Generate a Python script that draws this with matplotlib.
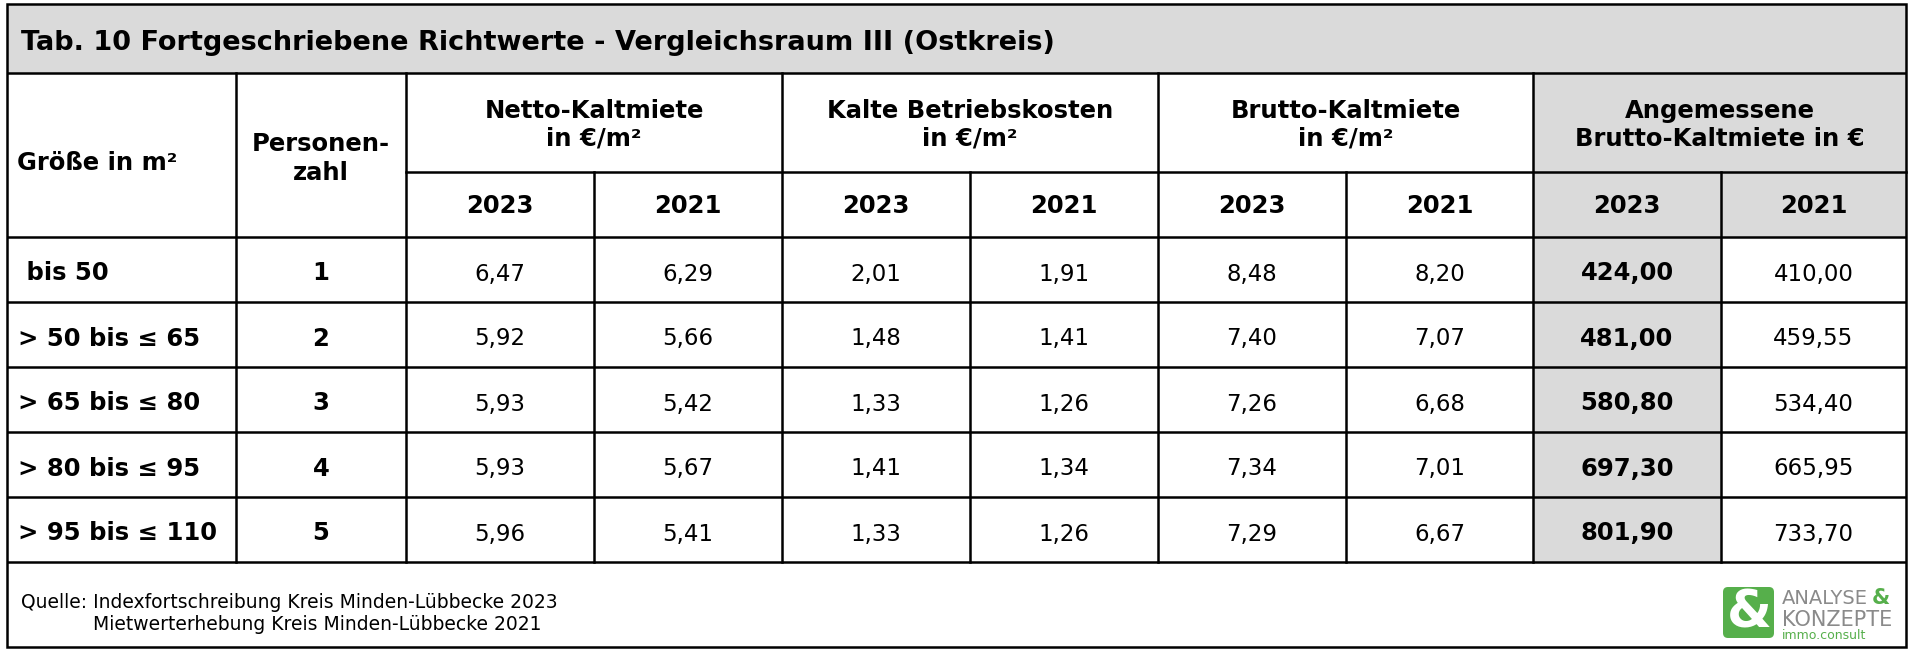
import numpy as np
import matplotlib
matplotlib.use("Agg")
import matplotlib.pyplot as plt
from matplotlib.patches import Rectangle, FancyBboxPatch

# ---- table content
title = "Tab. 10 Fortgeschriebene Richtwerte - Vergleichsraum III (Ostkreis)"
groups = ["Netto-Kaltmiete\nin €/m²", "Kalte Betriebskosten\nin €/m²",
          "Brutto-Kaltmiete\nin €/m²", "Angemessene\nBrutto-Kaltmiete in €"]
years = ["2023", "2021"]
groessen = [" bis 50", "> 50 bis ≤ 65", "> 65 bis ≤ 80", "> 80 bis ≤ 95", "> 95 bis ≤ 110"]
personen = [1, 2, 3, 4, 5]
netto_2023 = [6.47, 5.92, 5.93, 5.93, 5.96]
netto_2021 = [6.29, 5.66, 5.42, 5.67, 5.41]
betrieb_2023 = [2.01, 1.48, 1.33, 1.41, 1.33]
betrieb_2021 = [1.91, 1.41, 1.26, 1.34, 1.26]
brutto_2023 = [8.48, 7.40, 7.26, 7.34, 7.29]
brutto_2021 = [8.20, 7.07, 6.68, 7.01, 6.67]
angem_2023 = [424.00, 481.00, 580.80, 697.30, 801.90]
angem_2021 = [410.00, 459.55, 534.40, 665.95, 733.70]
quelle = ["Quelle: Indexfortschreibung Kreis Minden-Lübbecke 2023",
          "Mietwerterhebung Kreis Minden-Lübbecke 2021"]

value_cols = [netto_2023, netto_2021, betrieb_2023, betrieb_2021,
              brutto_2023, brutto_2021, angem_2023, angem_2021]

# ---- layout (pixel grid)
W, H = 1914, 651
X_L, X_R = 7, 1906
Y_T, Y_TITLE, Y_SUB, Y_HEAD, Y_FOOT = 4, 73, 172, 237, 647
ROW_H = 65
COLS = [X_L, 236, 406, 594, 782, 970, 1158, 1346, 1533, 1721, X_R]
GRAY = "#DADADA"
LW = 1.8
FS_B = 17.5   # bold header / labels
FS_N = 16.5   # numbers

plt.rcParams["font.family"] = "DejaVu Sans"
fig = plt.figure(figsize=(W / 100, H / 100), dpi=100)
ax = fig.add_axes([0, 0, 1, 1])
ax.set_xlim(0, W)
ax.set_ylim(H, 0)
ax.axis("off")

n_rows = len(groessen)
y_rows = [Y_HEAD + i * ROW_H for i in range(n_rows + 1)]
Y_END = y_rows[-1]

# gray fills
ax.add_patch(Rectangle((X_L, Y_T), X_R - X_L, Y_TITLE - Y_T, color=GRAY, lw=0))
ax.add_patch(Rectangle((COLS[8], Y_TITLE), X_R - COLS[8], Y_HEAD - Y_TITLE, color=GRAY, lw=0))
ax.add_patch(Rectangle((COLS[8], Y_HEAD), COLS[9] - COLS[8], Y_END - Y_HEAD, color=GRAY, lw=0))

# grid lines
ax.add_patch(Rectangle((X_L, Y_T), X_R - X_L, Y_FOOT - Y_T, fill=False, ec="black", lw=LW))
for y in [Y_TITLE] + y_rows:
    ax.plot([X_L, X_R], [y, y], color="black", lw=LW, solid_capstyle="butt")
ax.plot([COLS[2], X_R], [Y_SUB, Y_SUB], color="black", lw=LW)
for x in [COLS[1], COLS[2], COLS[4], COLS[6], COLS[8]]:
    ax.plot([x, x], [Y_TITLE, Y_END], color="black", lw=LW)
for x in [COLS[3], COLS[5], COLS[7], COLS[9]]:
    ax.plot([x, x], [Y_SUB, Y_END], color="black", lw=LW)

# title
ax.text(21, 50, title, fontsize=19.5, fontweight="bold", va="baseline", ha="left")

# header
ax.text(17, 170, "Größe in m²", fontsize=FS_B, fontweight="bold", va="baseline")
mid_p = (COLS[1] + COLS[2]) / 2
ax.text(mid_p, 151, "Personen-", fontsize=FS_B, fontweight="bold", va="baseline", ha="center")
ax.text(mid_p, 180, "zahl", fontsize=FS_B, fontweight="bold", va="baseline", ha="center")
for g, label in enumerate(groups):
    cx = (COLS[2 + 2 * g] + COLS[4 + 2 * g]) / 2
    l1, l2 = label.split("\n")
    ax.text(cx, 118, l1, fontsize=FS_B, fontweight="bold", va="baseline", ha="center")
    ax.text(cx, 146, l2, fontsize=FS_B, fontweight="bold", va="baseline", ha="center")
    for k, yr in enumerate(years):
        sx = (COLS[2 + 2 * g + k] + COLS[3 + 2 * g + k]) / 2
        ax.text(sx, 213, yr, fontsize=FS_B, fontweight="bold", va="baseline", ha="center")

# body
for i in range(n_rows):
    yb = (y_rows[i] + y_rows[i + 1]) / 2 + 11
    ax.text(18, yb, groessen[i], fontsize=FS_B, fontweight="bold", va="baseline")
    ax.text(mid_p, yb, str(personen[i]), fontsize=FS_B, fontweight="bold",
            va="baseline", ha="center")
    for c, vals in enumerate(value_cols):
        sx = (COLS[2 + c] + COLS[3 + c]) / 2
        txt = f"{vals[i]:.2f}".replace(".", ",")
        bold = c == 6
        ax.text(sx, yb, txt, fontsize=FS_B if bold else FS_N, va="baseline", ha="center",
                fontweight="bold" if bold else "normal")

# footer
ax.text(21, 608, quelle[0], fontsize=13.5, va="baseline")
ax.text(93, 630, quelle[1], fontsize=13.5, va="baseline")

# logo
green, grey = "#56AF4B", "#8A8A8A"
ax.add_patch(FancyBboxPatch((1723, 587), 51, 51, boxstyle="round,pad=0,rounding_size=5",
                            fc=green, ec="none"))
ax.text(1749, 614, "&", color="white", fontsize=37, fontweight="bold",
        ha="center", va="center")
ax.text(1782, 604, "ANALYSE", color=grey, fontsize=14, va="baseline")
ax.text(1872, 604, "&", color=green, fontsize=15, fontweight="bold", va="baseline")
ax.text(1782, 626, "KONZEPTE", color=grey, fontsize=15, va="baseline")
ax.text(1782, 639, "immo.consult", color=green, fontsize=9, va="baseline")

fig.savefig("out.png", dpi=100)
